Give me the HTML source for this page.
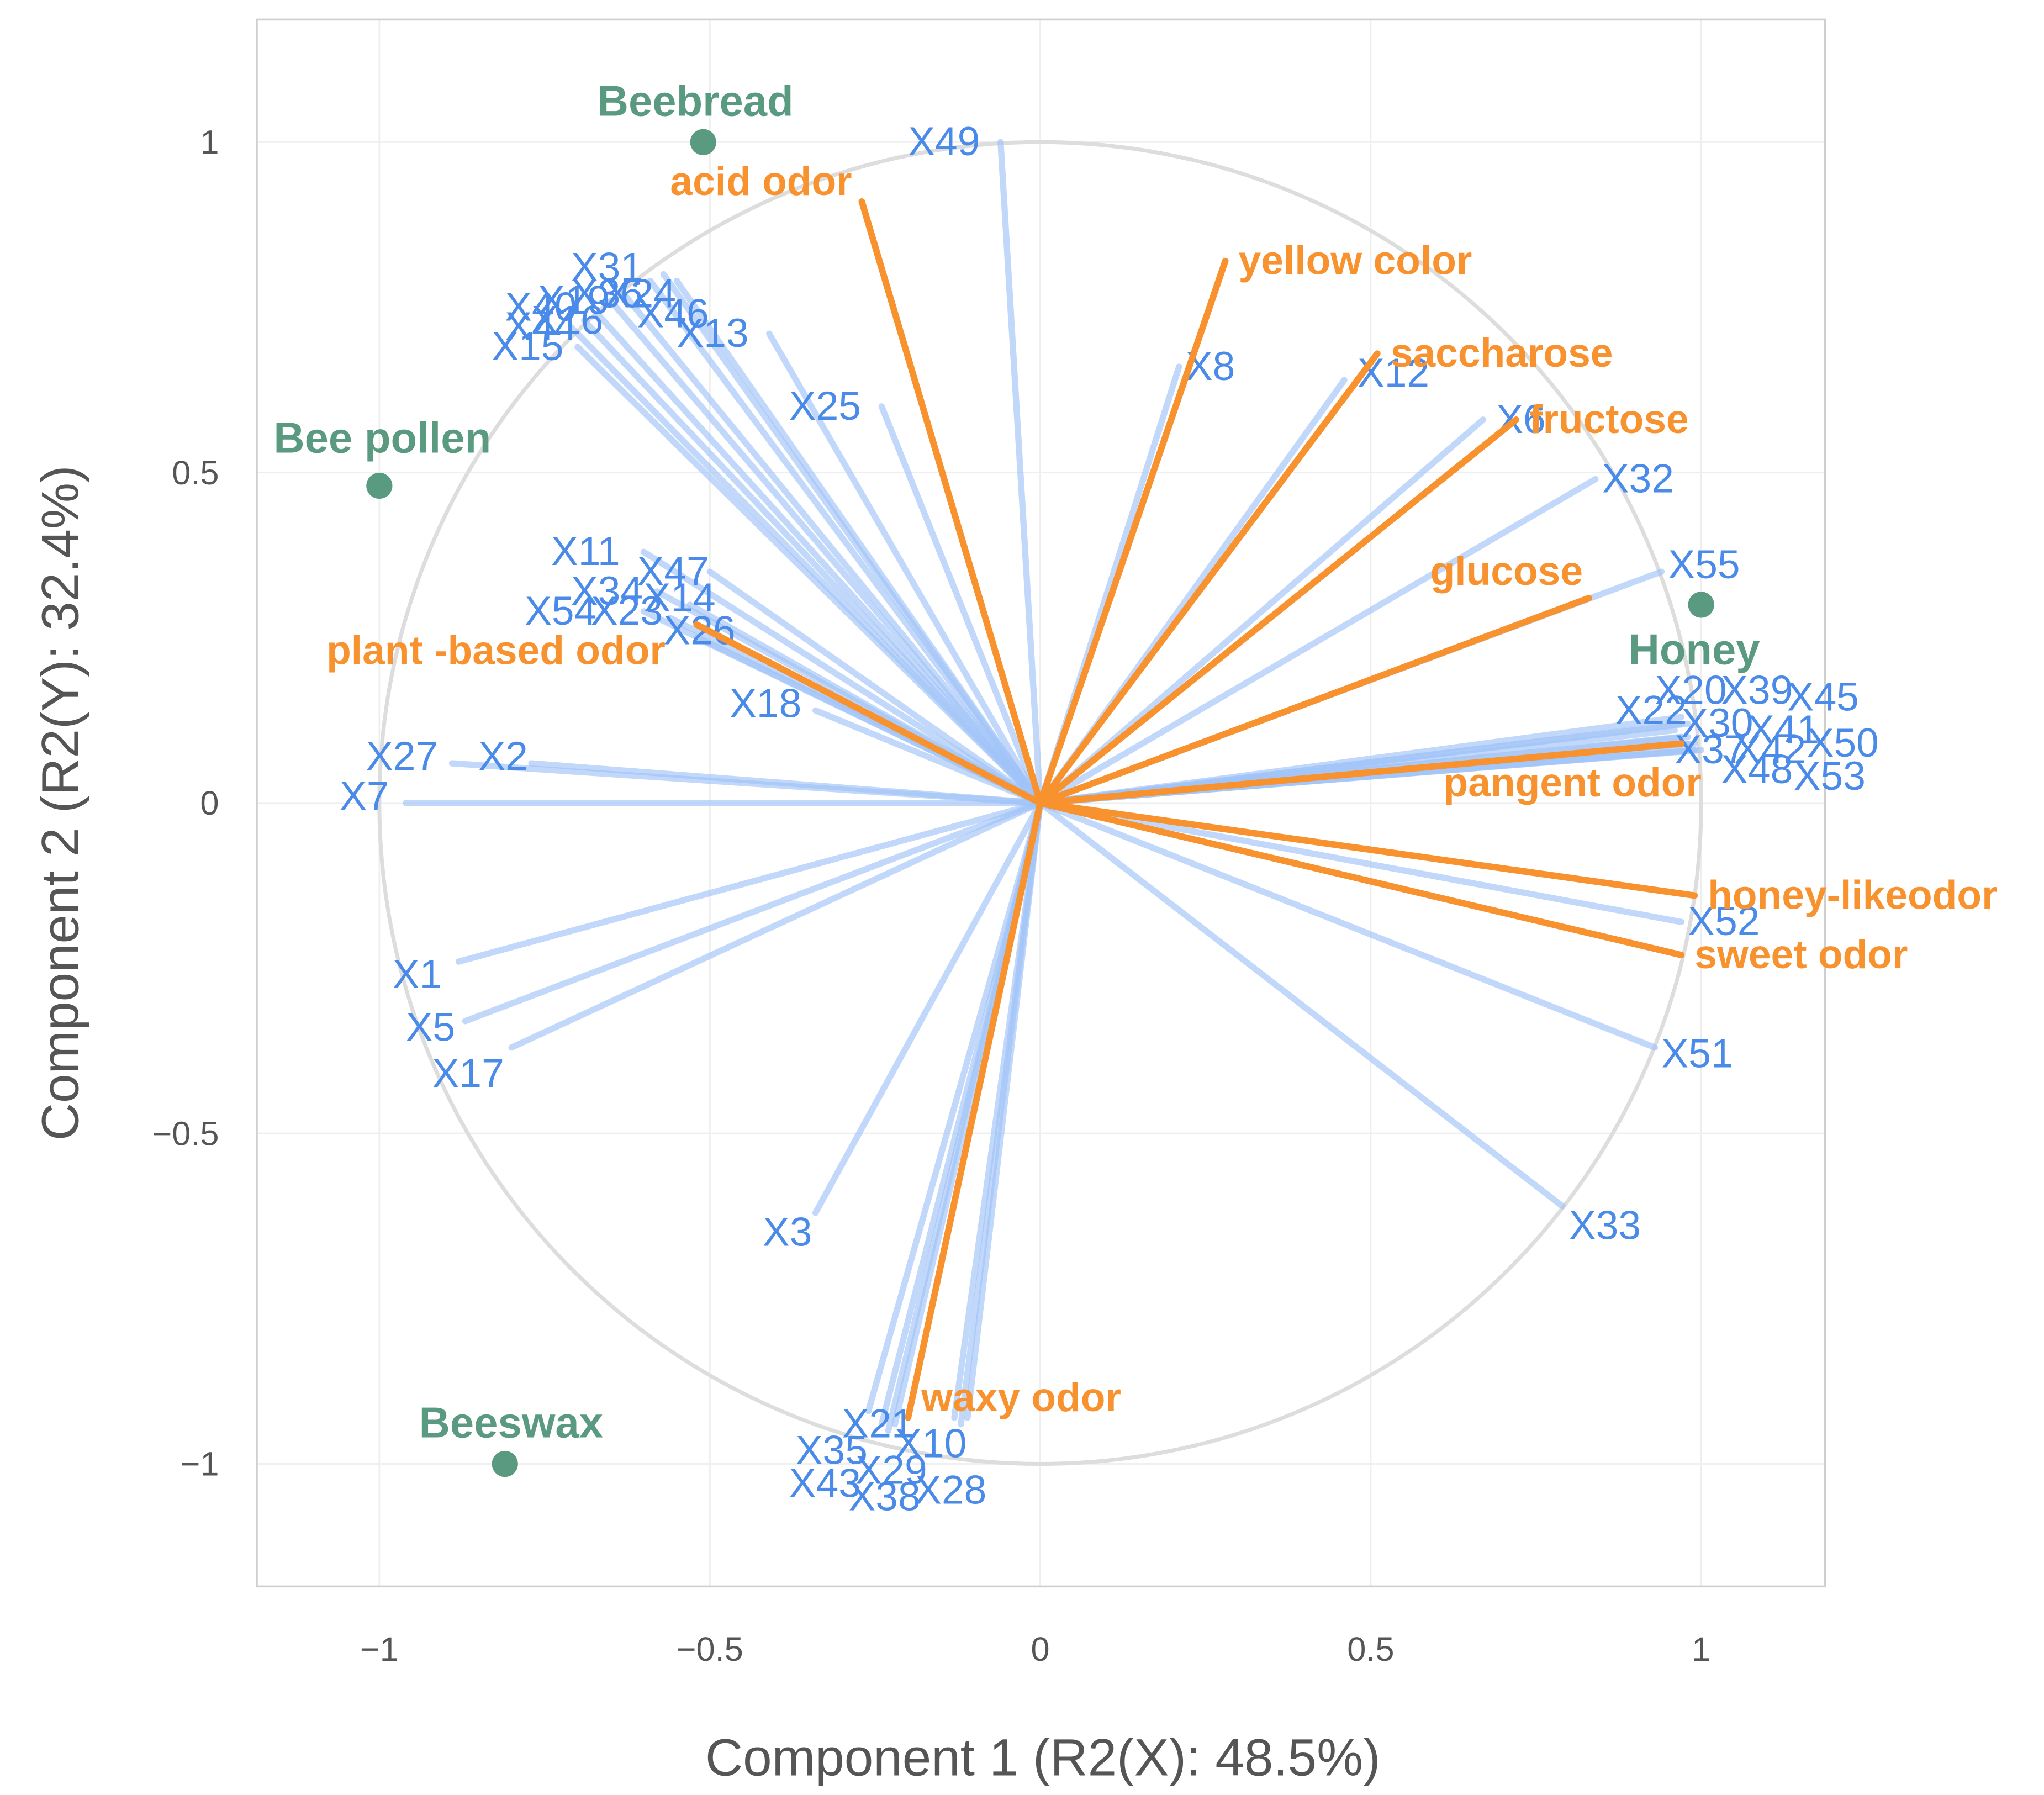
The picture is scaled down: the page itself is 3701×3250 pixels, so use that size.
<!DOCTYPE html>
<html><head><meta charset="utf-8"><style>
html,body{margin:0;padding:0;background:#fff;}
svg{display:block;font-family:"Liberation Sans",Arial,sans-serif;}
</style></head><body>
<svg id="chart" width="3701" height="3250" viewBox="0 0 1568 1377" preserveAspectRatio="none" xmlns="http://www.w3.org/2000/svg">
<rect x="0" y="0" width="1568" height="1377" fill="#fff"/>
<g id="grid"></g>
<rect x="197" y="15" width="1203" height="1202" fill="none" stroke="#cfcfcf" stroke-width="1.5"/>
<g id="circle"></g>
<g id="blue"></g>
<g id="orange"></g>
<g id="groups"></g>
<g id="ticks"></g>
<text x="800" y="1362" font-size="40" fill="#555" text-anchor="middle">Component 1 (R2(X): 48.5%)</text>
<text x="0" y="0" font-size="40" fill="#555" text-anchor="middle" transform="translate(60,616) rotate(-90)">Component 2 (R2(Y): 32.4%)</text>
</svg>
<script>
const tickValues=[-1,-0.5,0,0.5,1];
const tickLabels=["\u22121","\u22120.5","0","0.5","1"];
const xNames=["X49","X31","X40","X19","X36","X24","X44","X16","X15","X46","X13","X25","X8","X12","X6","X32","X55","X20","X39","X45","X22","X30","X41","X50","X37","X42","X48","X53","X52","X51","X33","X3","X21","X10","X35","X29","X43","X38","X28","X1","X5","X17","X27","X2","X7","X11","X47","X34","X14","X54","X23","X26","X18"];
const xEndX=[-0.06,-0.57,-0.59,-0.63,-0.65,-0.67,-0.69,-0.71,-0.70,-0.55,-0.41,-0.24,0.21,0.46,0.67,0.84,0.94,0.97,0.97,0.98,0.96,0.97,0.98,0.99,0.98,0.99,0.99,1.00,0.97,0.93,0.79,-0.34,-0.26,-0.11,-0.24,-0.23,-0.22,-0.13,-0.12,-0.88,-0.87,-0.80,-0.89,-0.77,-0.96,-0.60,-0.50,-0.58,-0.53,-0.60,-0.56,-0.52,-0.34];
const xEndY=[1.00,0.80,0.79,0.77,0.76,0.74,0.73,0.72,0.69,0.79,0.71,0.60,0.66,0.64,0.58,0.49,0.35,0.13,0.12,0.12,0.11,0.10,0.10,0.09,0.09,0.08,0.08,0.08,-0.18,-0.37,-0.61,-0.62,-0.92,-0.93,-0.94,-0.95,-0.94,-0.93,-0.94,-0.24,-0.33,-0.37,0.06,0.06,0.00,0.38,0.35,0.32,0.30,0.29,0.28,0.25,0.14];
const xLabX=[-0.20,-0.71,-0.81,-0.76,-0.71,-0.66,-0.81,-0.77,-0.83,-0.61,-0.55,-0.38,0.22,0.48,0.69,0.85,0.95,0.93,1.03,1.13,0.87,0.97,1.07,1.16,0.96,1.05,1.03,1.14,0.98,0.94,0.80,-0.42,-0.30,-0.22,-0.37,-0.28,-0.38,-0.29,-0.19,-0.98,-0.96,-0.92,-1.02,-0.85,-1.06,-0.74,-0.61,-0.71,-0.60,-0.78,-0.68,-0.57,-0.47];
const xLabY=[0.98,0.79,0.73,0.74,0.75,0.75,0.70,0.71,0.67,0.72,0.69,0.58,0.64,0.63,0.56,0.47,0.34,0.15,0.15,0.14,0.12,0.10,0.09,0.07,0.06,0.06,0.03,0.02,-0.20,-0.40,-0.66,-0.67,-0.96,-0.99,-1.00,-1.03,-1.05,-1.07,-1.06,-0.28,-0.36,-0.43,0.05,0.05,-0.01,0.36,0.33,0.30,0.29,0.27,0.27,0.24,0.13];
const yNames=["acid odor","yellow color","saccharose","fructose","glucose","pangent odor","honey-likeodor","sweet odor","waxy odor","plant -based odor"];
const yEndX=[-0.27,0.28,0.51,0.72,0.83,0.97,0.99,0.97,-0.20,-0.52];
const yEndY=[0.91,0.82,0.68,0.58,0.31,0.09,-0.14,-0.23,-0.93,0.27];
const yLabX=[-0.56,0.30,0.53,0.74,0.59,0.61,1.01,0.99,-0.18,-1.08];
const yLabY=[0.92,0.80,0.66,0.56,0.33,0.01,-0.16,-0.25,-0.92,0.21];
const gNames=["Beebread","Bee pollen","Honey","Beeswax"];
const gX=[-0.51,-1.00,1.00,-0.81];
const gY=[1.00,0.48,0.30,-1.00];
const gLabX=[-0.67,-1.16,0.89,-0.94];
const gLabY=[1.04,0.53,0.21,-0.96];

const NS="http://www.w3.org/2000/svg";
const sx=v=>798+507*v, sy=v=>616-507*v;
function mk(tag,parent,attrs,txt){const e=document.createElementNS(NS,tag);for(const k in attrs)e.setAttribute(k,attrs[k]);if(txt!=null)e.textContent=txt;parent.appendChild(e);return e;}
const grid=document.getElementById('grid'),ticks=document.getElementById('ticks');
tickValues.forEach((v,i)=>{
  let a=mk('line',grid,{x1:sx(v),x2:sx(v),y1:15,y2:1217,stroke:'#eeeeee','stroke-width':1.2});
  
  
  let b=mk('line',grid,{x1:197,x2:1400,y1:sy(v),y2:sy(v),stroke:'#eeeeee','stroke-width':1.2});
  
  
  let t=mk('text',ticks,{x:sx(v),y:1274,'font-size':26,fill:'#555','text-anchor':'middle'},tickLabels[i]);
  
  
  let u=mk('text',ticks,{x:168,y:sy(v)+9,'font-size':26,fill:'#555','text-anchor':'end'},tickLabels[i]);
  
  
});
const c=mk('circle',document.getElementById('circle'),{cx:sx(0),cy:sy(0),r:507,fill:'none',stroke:'#dddddd','stroke-width':3});


const blue=document.getElementById('blue');
xNames.forEach((n,i)=>{
  let l=mk('line',blue,{x1:sx(0),y1:sy(0),x2:sx(xEndX[i]),y2:sy(xEndY[i]),stroke:'#9fc3f7','stroke-opacity':0.65,'stroke-width':4.8,'stroke-linecap':'round'});
  
  
});
xNames.forEach((n,i)=>{
  let t=mk('text',blue,{x:sx(xLabX[i]),y:sy(xLabY[i]),'font-size':31,fill:'#4a8ae8'},n);
  
  
});
const orange=document.getElementById('orange');
yNames.forEach((n,i)=>{
  let l=mk('line',orange,{x1:sx(0),y1:sy(0),x2:sx(yEndX[i]),y2:sy(yEndY[i]),stroke:'#f7922f','stroke-width':5,'stroke-linecap':'round'});
  
  
});
yNames.forEach((n,i)=>{
  let t=mk('text',orange,{x:sx(yLabX[i]),y:sy(yLabY[i]),'font-size':31,'font-weight':'bold',fill:'#f7922f'},n);
  
  
});
const groups=document.getElementById('groups');
gNames.forEach((n,i)=>{
  let p=mk('circle',groups,{cx:sx(gX[i]),cy:sy(gY[i]),r:10,fill:'#5a9a80'});
  
  
  let t=mk('text',groups,{x:sx(gLabX[i]),y:sy(gLabY[i]),'font-size':33,'font-weight':'bold',fill:'#5a9a80'},n);
  
  
});
</script>
</body></html>
